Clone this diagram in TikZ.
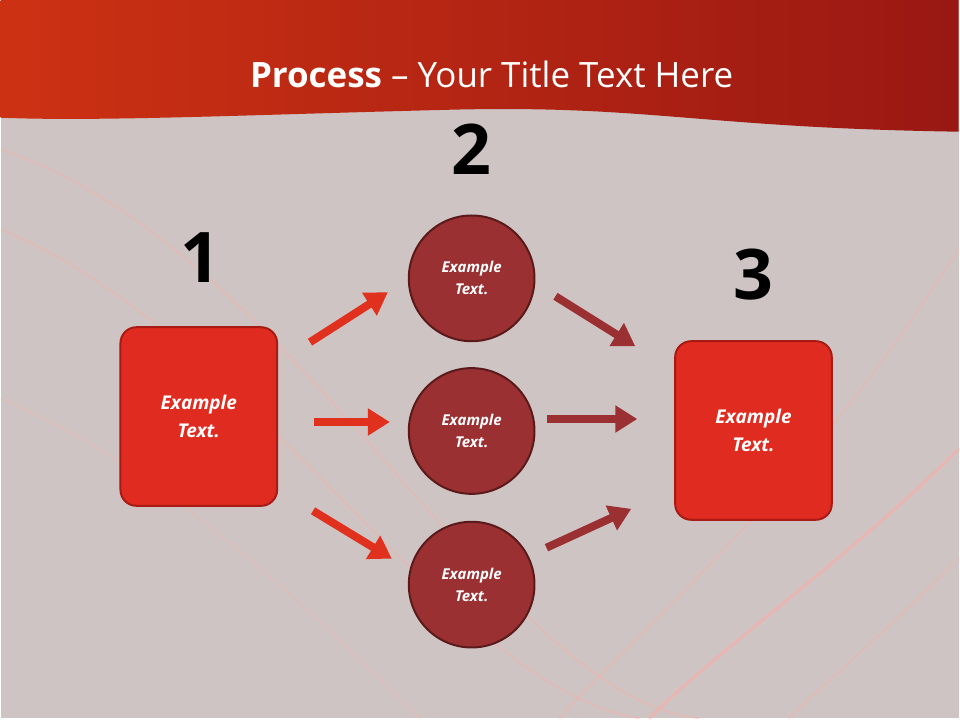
\documentclass[tikz,border=0pt]{standalone}
\usepackage{fontspec}
\setmainfont{Open Sans}
\usetikzlibrary{arrows.meta}
\definecolor{bg}{HTML}{CFC4C4}
\definecolor{band}{HTML}{C01E18}
\definecolor{boxred}{HTML}{E02B20}
\definecolor{boxedge}{HTML}{A81A14}
\definecolor{circ}{HTML}{9B3033}
\definecolor{circedge}{HTML}{5A1A1A}
\definecolor{arrA}{HTML}{E0301E}
\definecolor{arrB}{HTML}{9B3033}
\definecolor{glowc}{HTML}{F4B0A8}
\tikzset{
 box/.style={draw=boxedge,line width=2pt,fill=boxred,rounded corners=16pt,minimum width=157pt,minimum height=179pt,text=white,font=\bfseries\itshape\fontsize{19}{28}\selectfont,align=center},
 circnode/.style={circle,draw=circedge,line width=2pt,fill=circ,minimum size=126pt,text=white,font=\bfseries\itshape\fontsize{15}{22}\selectfont,align=center},
 num/.style={font=\bfseries\fontsize{70}{74}\selectfont},
 fat/.style={line width=8pt,-{Triangle[width=26pt,length=22pt]}},
 glow/.style={glowc,opacity=0.5,line width=1.5pt}
}
\begin{document}
\begin{tikzpicture}[x=1pt,y=-1pt]
\fill[bg] (0,0) rectangle (960,720);
% decorative light curves
\draw[glow] (0,150) .. controls (300,250) and (500,700) .. (700,720);
\draw[glow] (0,230) .. controls (250,330) and (450,690) .. (640,720);
\draw[glow] (960,250) .. controls (800,500) and (650,620) .. (560,720);
\draw[glow,opacity=0.7,line width=3pt] (960,450) .. controls (850,560) and (720,650) .. (650,720);
\draw[glow] (960,560) .. controls (880,640) and (820,690) .. (790,720);
\draw[glow,opacity=0.35] (0,400) .. controls (150,460) and (300,600) .. (420,720);
% top band
\shade[left color=band!80!orange,right color=band!80!black] (0,0) -- (960,0) -- (960,132) .. controls (700,128) and (650,105) .. (450,110) .. controls (250,115) and (100,122) .. (0,118) -- cycle;
\node[text=white,font=\fontsize{35}{40}\selectfont] (title) at (492,75) {\textbf{Process} -- Your Title Text Here};
\node[num] (n1) at (200,258) {1};
\node[num] (n2) at (472,150) {2};
\node[num] (n3) at (754,275) {3};
\node[box] (b1) at (198.5,417.5) {Example\\Text.};
\node[box] (b3) at (754.5,431.5) {Example\\Text.};
\node[circnode] (c1) at (472,279) {Example\\Text.};
\node[circnode] (c2) at (472,432) {Example\\Text.};
\node[circnode] (c3) at (472,586) {Example\\Text.};
\coordinate (a1s) at (310,343); \coordinate (a1e) at (388,293);
\coordinate (a2s) at (314,423); \coordinate (a2e) at (390,423);
\coordinate (a3s) at (313,512); \coordinate (a3e) at (392,560);
\coordinate (r1s) at (556,297); \coordinate (r1e) at (636,347);
\coordinate (r2s) at (548,420); \coordinate (r2e) at (638,420);
\coordinate (r3s) at (547,549); \coordinate (r3e) at (632,510);
\draw[fat,arrA] (a1s) -- (a1e);
\draw[fat,arrA] (a2s) -- (a2e);
\draw[fat,arrA] (a3s) -- (a3e);
\draw[fat,arrB] (r1s) -- (r1e);
\draw[fat,arrB] (r2s) -- (r2e);
\draw[fat,arrB] (r3s) -- (r3e);
\end{tikzpicture}
\end{document}
